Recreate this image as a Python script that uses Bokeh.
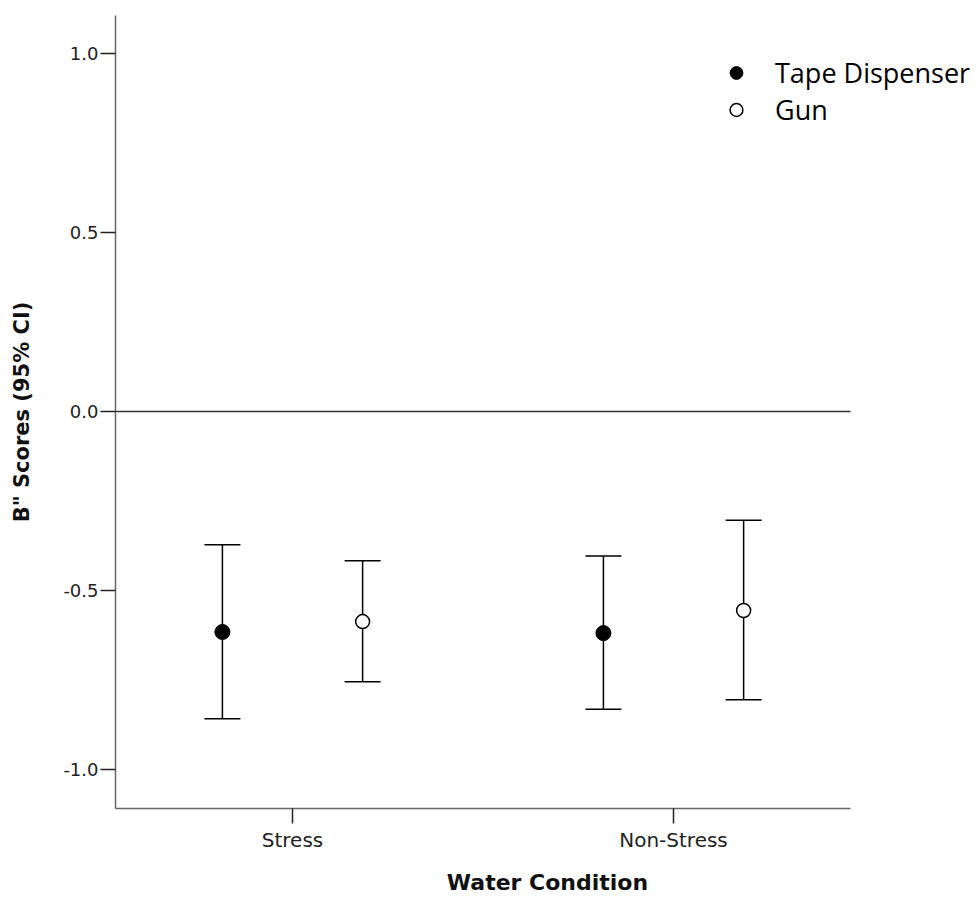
from bokeh.plotting import figure
from bokeh.models import (ColumnDataSource, FixedTicker, NumeralTickFormatter, Range1d,
                          Whisker, TeeHead, Legend, LegendItem)
from bokeh.transform import dodge
from bokeh.embed import file_html
from bokeh.resources import INLINE

# ---- data ----
categories = ["Stress", "Non-Stress"]
tape_mean = [-0.616, -0.619]
tape_lower = [-0.858, -0.832]
tape_upper = [-0.372, -0.404]
gun_mean = [-0.587, -0.556]
gun_lower = [-0.755, -0.805]
gun_upper = [-0.417, -0.304]
y_ticks = [-1.0, -0.5, 0.0, 0.5, 1.0]
series_labels = ["Tape Dispenser", "Gun"]
reference_value = 0.0

x_pos = [i + 1 for i in range(len(categories))]
src = ColumnDataSource(dict(
    x=x_pos,
    tape_mean=tape_mean, tape_lower=tape_lower, tape_upper=tape_upper,
    gun_mean=gun_mean, gun_lower=gun_lower, gun_upper=gun_upper,
))

OFF = 0.184
X_LO, X_HI = 0.5354, 2.4646   # extent of the drawn x axis

p = figure(width=979, height=897, output_backend="svg", toolbar_location=None,
           x_range=Range1d(X_LO, 2.8031), y_range=Range1d(-1.109, 1.106),
           min_border_left=115, min_border_right=0, min_border_top=15, min_border_bottom=89)
p.outline_line_color = None
p.xgrid.visible = False
p.ygrid.visible = False
p.background_fill_color = "white"

# zero reference line across the axis extent
p.line(x=[X_LO, X_HI], y=[reference_value, reference_value], line_color="#333333", line_width=1.5)

# error bars
for m, lo, hi, off in [("tape_mean", "tape_lower", "tape_upper", -OFF),
                       ("gun_mean", "gun_lower", "gun_upper", OFF)]:
    w = Whisker(source=src, base=dodge("x", off), lower=lo, upper=hi,
                line_color="black", line_width=1.5,
                upper_head=TeeHead(size=36, line_color="black", line_width=1.5),
                lower_head=TeeHead(size=36, line_color="black", line_width=1.5))
    p.add_layout(w)

r_tape = p.scatter(x=dodge("x", -OFF), y="tape_mean", source=src, size=15,
                   fill_color="black", line_color="black", line_width=1)
r_gun = p.scatter(x=dodge("x", OFF), y="gun_mean", source=src, size=14,
                  fill_color="white", line_color="black", line_width=1.5)

# axes
p.yaxis.ticker = FixedTicker(ticks=y_ticks)
p.yaxis.formatter = NumeralTickFormatter(format="0.0")
p.xaxis.ticker = FixedTicker(ticks=x_pos)
p.xaxis.major_label_overrides = {x: c for x, c in zip(x_pos, categories)}
p.xaxis.bounds = (X_LO, X_HI)

for ax in (p.xaxis[0], p.yaxis[0]):
    ax.axis_line_color = "#666666"
    ax.axis_line_width = 1.5
    ax.major_tick_line_color = "#222222"
    ax.major_tick_line_width = 1.5
    ax.major_tick_out = 15
    ax.major_tick_in = 0
    ax.minor_tick_line_color = None
    ax.major_label_text_font = "DejaVu Sans"
    ax.major_label_text_color = "#222222"
    ax.axis_label_text_font = "DejaVu Sans"
    ax.axis_label_text_font_style = "bold"
    ax.axis_label_text_color = "#111111"

p.yaxis.major_label_text_font_size = "18px"
p.yaxis.major_label_standoff = 2
p.yaxis.axis_label = 'B" Scores (95% CI)'
p.yaxis.axis_label_text_font_size = "21px"
p.yaxis.axis_label_standoff = 26

p.xaxis.major_label_text_font_size = "20px"
p.xaxis.major_label_standoff = 4
p.xaxis.axis_label = "Water Condition"
p.xaxis.axis_label_text_font_size = "22px"
p.xaxis.axis_label_standoff = 15

legend = Legend(items=[LegendItem(label=series_labels[0], renderers=[r_tape]),
                       LegendItem(label=series_labels[1], renderers=[r_gun])],
                location=(605, 680), orientation="vertical",
                border_line_color=None, background_fill_alpha=0,
                padding=0, margin=0, spacing=0,
                glyph_width=32, glyph_height=37, label_height=37, label_standoff=23,
                label_text_font="Open Sans", label_text_font_size="27px",
                label_text_color="black")
p.add_layout(legend)

open("out.html", "w").write(file_html(p, INLINE))
